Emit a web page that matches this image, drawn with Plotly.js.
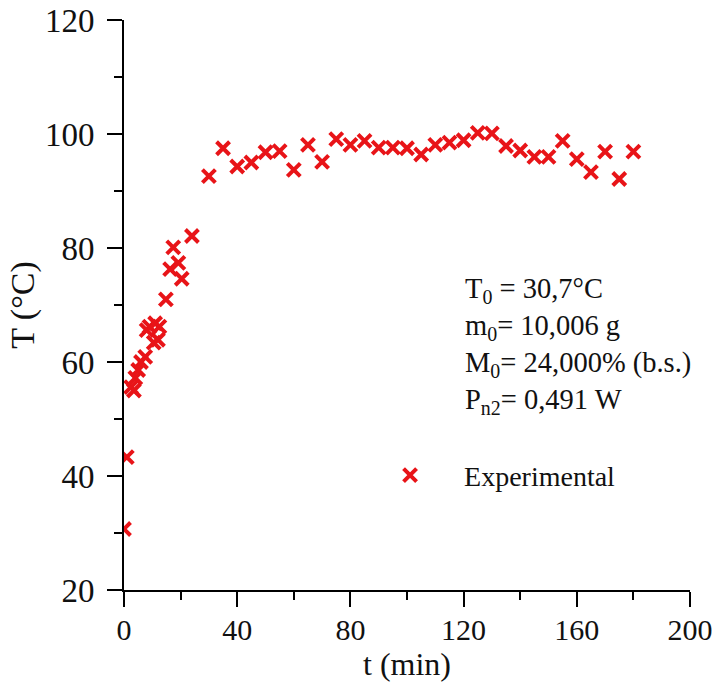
<!DOCTYPE html>
<html>
<head>
<meta charset="utf-8">
<script src="https://cdn.plot.ly/plotly-3.0.1.min.js"></script>
<style>html,body{margin:0;padding:0;background:#fff;}#chart{width:715px;height:686px;}</style>
</head>
<body>
<div id="chart"></div>
<script>
var timeMin = [0, 1, 2.5, 3.5, 4, 5, 6, 7.5, 8, 9, 10.5, 11, 12, 12.5, 14.8, 16.3, 17.4, 19.2, 20.4, 24,
  30, 35, 40, 45, 50, 55, 60, 65, 70, 75, 80, 85, 90, 95, 100, 105, 110, 115, 120, 125, 130,
  135, 140, 145, 150, 155, 160, 165, 170, 175, 180];
var tempC = [30.7, 43.3, 55.6, 55.0, 57.2, 58.6, 60.0, 60.9, 65.6, 66.2, 63.4, 66.8, 63.9, 66.2, 71.0, 76.3, 80.1, 77.4, 74.6, 82.1,
  92.6, 97.5, 94.3, 95.0, 96.8, 97.0, 93.7, 98.1, 95.1, 99.1, 98.1, 98.8, 97.6, 97.6, 97.5, 96.4, 98.1, 98.5, 98.9, 100.2, 100.1,
  97.9, 97.1, 96.0, 96.0, 98.8, 95.6, 93.3, 96.9, 92.1, 96.9];
var seriesName = 'Experimental';
var xTickVals = [0, 40, 80, 120, 160, 200];
var yTickVals = [20, 40, 60, 80, 100, 120];
var infoText = 'T<sub>0</sub> = 30,7°C<br>m<sub>0</sub>= 10,006 g<br>M<sub>0</sub>= 24,000% (b.s.)<br>P<sub>n2</sub>= 0,491 W';

var FONT = 'Liberation Serif, Times New Roman, serif';
var red = 'rgb(232,20,24)';

var trace = {
  x: timeMin, y: tempC, type: 'scatter', mode: 'markers', name: seriesName,
  marker: {symbol: 'x-thin-open', size: 13, color: red, line: {color: red, width: 4}}
};

var axisCommon = {
  showline: true, linecolor: '#000', linewidth: 2,
  ticks: 'outside', ticklen: 15, tickwidth: 2, tickcolor: '#000',
  showgrid: false, zeroline: false,
  automargin: false
};

var layout = {
  width: 715, height: 686,
  margin: {l: 124, r: 25, t: 20, b: 96},
  paper_bgcolor: '#fff', plot_bgcolor: '#fff',
  font: {family: FONT, size: 28, color: '#111'},
  showlegend: true,
  legend: {x: 0.41, y: 0.245, xanchor: 'left', yanchor: 'top', bgcolor: 'rgba(0,0,0,0)',
    itemwidth: 98, font: {family: FONT, size: 28, color: '#111'}},
  xaxis: Object.assign({}, axisCommon, {
    range: [0, 200], tickvals: xTickVals, ticktext: xTickVals.map(String),
    tickfont: {family: FONT, size: 30, color: '#111'},
    minor: {ticks: 'outside', ticklen: 8, tickwidth: 2, tickcolor: '#000', dtick: 20, tick0: 0},
    ticklabelstandoff: -3,
    title: {text: 't (min)', font: {family: FONT, size: 32, color: '#111'}, standoff: 0}
  }),
  yaxis: Object.assign({}, axisCommon, {
    range: [20, 120], tickvals: yTickVals, ticktext: yTickVals.map(String),
    tickfont: {family: FONT, size: 33, color: '#111'},
    minor: {ticks: 'outside', ticklen: 8, tickwidth: 2, tickcolor: '#000', dtick: 10, tick0: 0},
    ticklabelstandoff: 6,
    title: {text: 'T (°C)', font: {family: FONT, size: 34, color: '#111'}, standoff: 0}
  }),
  annotations: [{
    xref: 'paper', yref: 'paper', x: 0.599, y: 0.56, xanchor: 'left', yanchor: 'top',
    align: 'left', showarrow: false, text: infoText,
    font: {family: FONT, size: 28.5, color: '#111'}
  }]
};

Plotly.newPlot('chart', [trace], layout, {displayModeBar: false, staticPlot: true});
</script>
</body>
</html>
